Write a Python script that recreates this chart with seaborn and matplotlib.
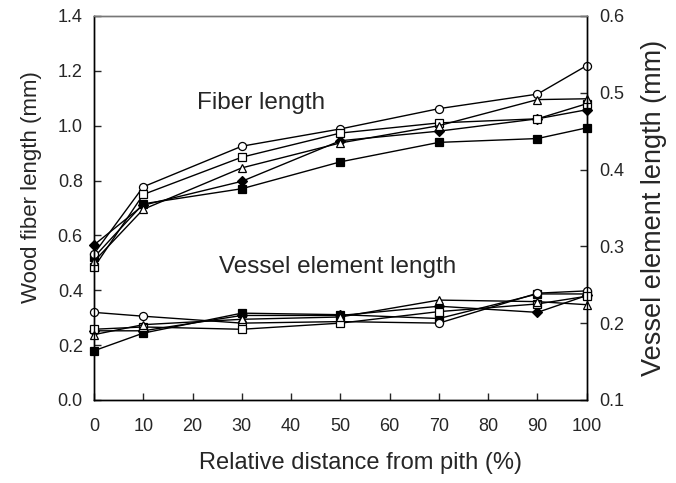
import matplotlib
matplotlib.use("Agg")
import matplotlib.pyplot as plt
import seaborn as sns

# Relative distance from pith (%)
distance = [0, 10, 30, 50, 70, 90, 100]

# Wood fiber length (mm), left axis
fiber_diamond = [0.565, 0.710, 0.797, 0.945, 0.980, 1.025, 1.058]
fiber_fsquare = [0.520, 0.715, 0.770, 0.868, 0.939, 0.953, 0.992]
fiber_circle = [0.533, 0.777, 0.925, 0.988, 1.062, 1.115, 1.219]
fiber_osquare = [0.483, 0.749, 0.885, 0.973, 1.010, 1.025, 1.080]
fiber_triangle = [0.505, 0.695, 0.846, 0.937, 1.000, 1.095, 1.098]

# Vessel element length (mm), right axis
vessel_diamond = [0.190, 0.190, 0.210, 0.210, 0.222, 0.214, 0.236]
vessel_fsquare = [0.164, 0.187, 0.213, 0.211, 0.206, 0.238, 0.238]
vessel_circle = [0.214, 0.209, 0.200, 0.202, 0.200, 0.239, 0.242]
vessel_osquare = [0.192, 0.195, 0.192, 0.200, 0.215, 0.225, 0.235]
vessel_triangle = [0.185, 0.198, 0.205, 0.208, 0.230, 0.228, 0.224]

sns.set_style("ticks")
plt.rcParams['font.family'] = ['Liberation Sans', 'DejaVu Sans']

fig = plt.figure(figsize=(6.76, 4.83), dpi=100)
ax = fig.add_axes([0.139, 0.172, 0.729, 0.795])
ax2 = ax.twinx()

# marker, filled?
styles = [('D', True), ('s', True), ('o', False), ('s', False), ('^', False)]
fiber = [fiber_diamond, fiber_fsquare, fiber_circle, fiber_osquare, fiber_triangle]
vessel = [vessel_diamond, vessel_fsquare, vessel_circle, vessel_osquare, vessel_triangle]

for (m, filled), fy, vy in zip(styles, fiber, vessel):
    ms = 5.0 if m == 'D' else 5.8
    kw = dict(color='black', marker=m, markersize=ms, linewidth=1.0,
              markerfacecolor='black' if filled else 'white',
              markeredgecolor='black', markeredgewidth=0.9, clip_on=False)
    sns.lineplot(x=distance, y=fy, ax=ax, **kw)
    sns.lineplot(x=distance, y=vy, ax=ax2, **kw)

ax.set_xlim(0, 100)
ax.set_ylim(0, 1.4)
ax2.set_ylim(0.1, 0.6)
ax.set_xticks(range(0, 101, 10))
ax.set_yticks([0.0, 0.2, 0.4, 0.6, 0.8, 1.0, 1.2, 1.4])
ax2.set_yticks([0.1, 0.2, 0.3, 0.4, 0.5, 0.6])
ax.yaxis.set_major_formatter(matplotlib.ticker.FormatStrFormatter('%.1f'))
ax2.yaxis.set_major_formatter(matplotlib.ticker.FormatStrFormatter('%.1f'))

for a in (ax, ax2):
    a.tick_params(direction='in', length=5, width=1, labelsize=13, pad=8)
    for s in a.spines.values():
        s.set_linewidth(1.0)
        s.set_color('black')
    a.spines['top'].set_color('#777777')
ax.tick_params(axis='x', pad=13)
ax2.tick_params(axis='y', pad=9)

ax.set_xlabel("Relative distance from pith (%)", fontsize=17)
ax.set_ylabel("Wood fiber length (mm)", fontsize=16)
ax2.set_ylabel("Vessel element length (mm)", fontsize=19.5)
ax.xaxis.set_label_coords(0.54, -0.135)
ax.yaxis.set_label_coords(-0.105, 0.555)
ax2.yaxis.set_label_coords(1.11, 0.50)

ax.text(34, 1.084, "Fiber length", fontsize=17.5, ha='center', va='center')
ax.text(49.5, 0.484, "Vessel element length", fontsize=17.5, ha='center', va='center')

fig.savefig("out.png", dpi=100)
